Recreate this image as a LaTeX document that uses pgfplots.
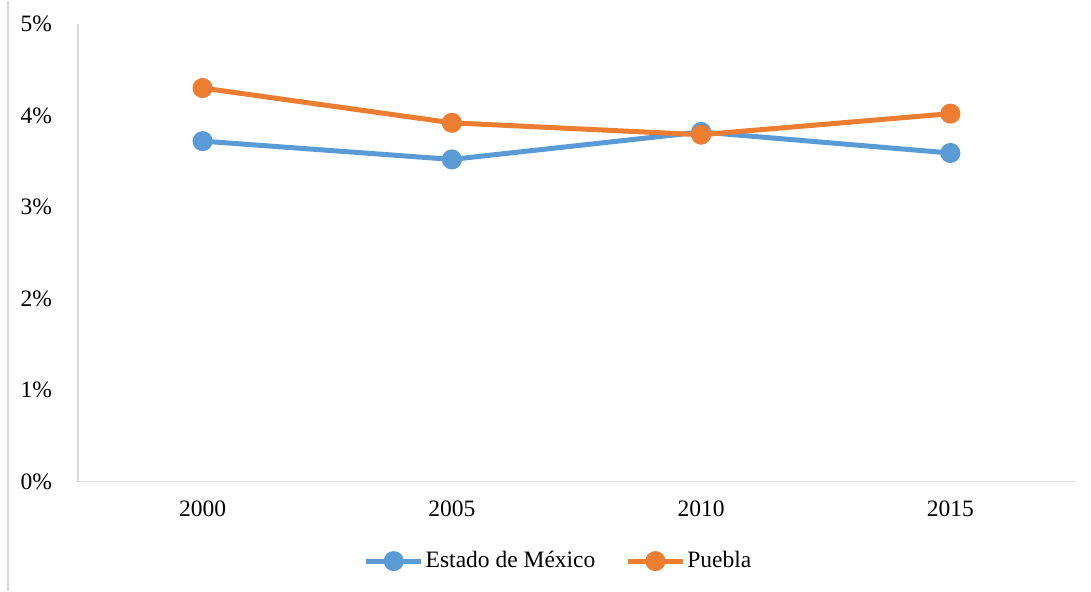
\documentclass[border=0pt]{standalone}
\usepackage{pgfplots}
\pgfplotsset{compat=1.18}
\usepackage{fontspec}
\setmainfont{Liberation Serif}
\definecolor{cblue}{HTML}{5B9BD5}
\definecolor{corange}{HTML}{ED7D31}
\definecolor{axgray}{HTML}{D9D9D9}
\begin{document}
\fontsize{23.5}{27}\selectfont
\begin{tikzpicture}
\path (0pt,0pt) rectangle (1091pt,591pt);
\draw[axgray, line width=1.5pt] (8pt,0pt) -- (8pt,590pt);
\begin{axis}[
  at={(78pt,109.5pt)}, anchor=south west,
  scale only axis, width=997pt, height=457.5pt,
  xmin=-0.5, xmax=3.5, ymin=0, ymax=5,
  axis lines*=left,
  axis line style={axgray, line width=1.5pt},
  xtick={0,1,2,3}, xticklabels={2000,2005,2010,2015},
  ytick={0,1,2,3,4,5}, yticklabels={0\%,1\%,2\%,3\%,4\%,5\%},
  major tick length=0pt,
  tick label style={font=\fontsize{23.5}{27}\selectfont},
  xticklabel style={yshift=-11pt},
  yticklabel style={xshift=-18pt},
  /pgf/number format/assume math mode=true,
  legend columns=2,
  legend style={at={(0.482,-0.174)}, anchor=center, draw=none, fill=none,
    font=\fontsize{23.5}{27}\selectfont,
    /tikz/every even column/.append style={column sep=28pt}},
  legend image code/.code={\draw[mark repeat=2,mark phase=2,#1] plot coordinates {(0pt,0pt) (27.5pt,0pt) (55pt,0pt)};},
  every axis plot/.append style={line width=5pt, mark=*, mark size=7.5pt, mark options={solid, line width=0pt}},
]
\addplot[cblue, mark options={fill=cblue, draw=cblue}] coordinates {(0,3.72) (1,3.52) (2,3.82) (3,3.59)};
\addlegendentry{Estado de México}
\addplot[corange, mark options={fill=corange, draw=corange}] coordinates {(0,4.30) (1,3.92) (2,3.79) (3,4.02)};
\addlegendentry{Puebla}
\end{axis}
\end{tikzpicture}
\end{document}
